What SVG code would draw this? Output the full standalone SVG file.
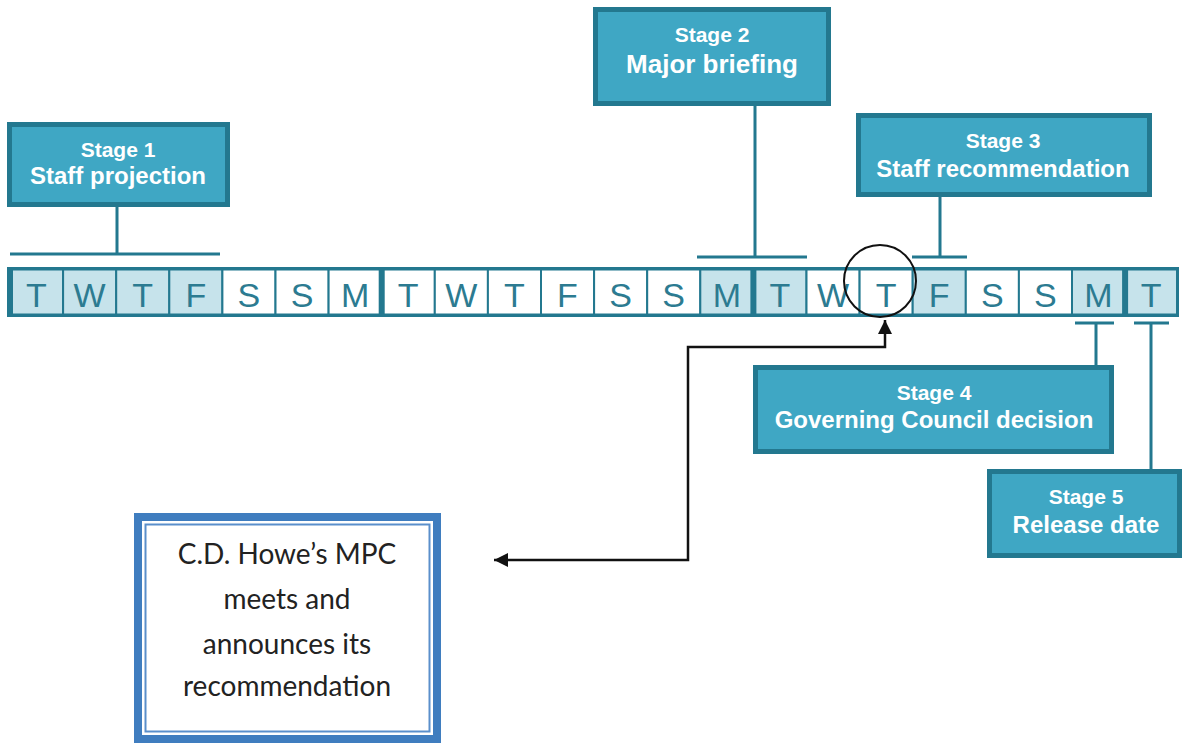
<svg xmlns="http://www.w3.org/2000/svg" width="1184" height="745" viewBox="0 0 1184 745">
<defs>
<style>
.stage rect{fill:#3fa7c4;stroke:#23788f;stroke-width:5}
.stage text{font-family:"Liberation Sans",Arial,sans-serif;font-weight:bold;fill:#ffffff;text-anchor:middle}
.s1{font-size:21px}
.s2{font-size:24px}
.tick{stroke:#23788f;stroke-width:3;fill:none}
.cell{stroke:#23788f;stroke-width:2}
.lt{fill:#c6e3eb}
.wt{fill:#ffffff}
.day{font-family:"Liberation Sans",Arial,sans-serif;font-size:34px;fill:#2c7b91;text-anchor:middle}
.thick{fill:#23788f}
.mpc{font-family:Lato,"Open Sans",sans-serif;font-size:28px;fill:#222222;text-anchor:middle}
</style>
<marker id="ah" viewBox="0 0 10 10" refX="10" refY="5" markerUnits="userSpaceOnUse" markerWidth="14" markerHeight="14" orient="auto-start-reverse">
<path d="M0,0 L10,5 L0,10 z" fill="#111111"/>
</marker>
</defs>
<rect width="1184" height="745" fill="#ffffff"/>

<g id="strip">
<rect class="cell lt" x="10" y="269.5" width="53.1" height="45"/>
<rect class="cell lt" x="63.1" y="269.5" width="53.1" height="45"/>
<rect class="cell lt" x="116.2" y="269.5" width="53.1" height="45"/>
<rect class="cell lt" x="169.3" y="269.5" width="53.1" height="45"/>
<rect class="cell wt" x="222.4" y="269.5" width="53.1" height="45"/>
<rect class="cell wt" x="275.5" y="269.5" width="53.1" height="45"/>
<rect class="cell wt" x="328.6" y="269.5" width="53.1" height="45"/>
<rect class="cell wt" x="381.7" y="269.5" width="53.1" height="45"/>
<rect class="cell wt" x="434.8" y="269.5" width="53.1" height="45"/>
<rect class="cell wt" x="487.9" y="269.5" width="53.1" height="45"/>
<rect class="cell wt" x="541" y="269.5" width="53.1" height="45"/>
<rect class="cell wt" x="594.1" y="269.5" width="53.1" height="45"/>
<rect class="cell wt" x="647.2" y="269.5" width="53.1" height="45"/>
<rect class="cell lt" x="700.3" y="269.5" width="53.1" height="45"/>
<rect class="cell lt" x="753.4" y="269.5" width="53.1" height="45"/>
<rect class="cell wt" x="806.5" y="269.5" width="53.1" height="45"/>
<rect class="cell wt" x="859.6" y="269.5" width="53.1" height="45"/>
<rect class="cell lt" x="912.7" y="269.5" width="53.1" height="45"/>
<rect class="cell wt" x="965.8" y="269.5" width="53.1" height="45"/>
<rect class="cell wt" x="1018.9" y="269.5" width="53.1" height="45"/>
<rect class="cell lt" x="1072" y="269.5" width="53.1" height="45"/>
<rect class="cell lt" x="1125.1" y="269.5" width="52" height="45"/>
<rect x="8.5" y="268.5" width="1169" height="47" fill="none" stroke="#23788f" stroke-width="3"/>
<rect class="thick" x="7" y="268" width="6" height="48"/>
<rect class="thick" x="378.7" y="268" width="6" height="48"/>
<rect class="thick" x="750.4" y="268" width="6" height="48"/>
<rect class="thick" x="1122.1" y="268" width="6" height="48"/>
<text class="day" x="36.5" y="307">T</text>
<text class="day" x="89.6" y="307">W</text>
<text class="day" x="142.7" y="307">T</text>
<text class="day" x="195.8" y="307">F</text>
<text class="day" x="248.9" y="307">S</text>
<text class="day" x="302" y="307">S</text>
<text class="day" x="355.1" y="307">M</text>
<text class="day" x="408.2" y="307">T</text>
<text class="day" x="461.3" y="307">W</text>
<text class="day" x="514.4" y="307">T</text>
<text class="day" x="567.5" y="307">F</text>
<text class="day" x="620.6" y="307">S</text>
<text class="day" x="673.7" y="307">S</text>
<text class="day" x="726.8" y="307">M</text>
<text class="day" x="779.9" y="307">T</text>
<text class="day" x="833" y="307">W</text>
<text class="day" x="886.1" y="307">T</text>
<text class="day" x="939.2" y="307">F</text>
<text class="day" x="992.3" y="307">S</text>
<text class="day" x="1045.4" y="307">S</text>
<text class="day" x="1098.5" y="307">M</text>
<text class="day" x="1151.1" y="307">T</text>
</g>

<g id="connectors">
<path class="tick" d="M117,207 V254 M10,254 H220"/>
<path class="tick" d="M755,106 V257 M697,257 H807"/>
<path class="tick" d="M940,197 V257 M912,257 H967"/>
<path class="tick" d="M1096,365 V323 M1075,323 H1114"/>
<path class="tick" d="M1151,469 V323 M1134,323 H1169"/>
<path d="M494,560 H688 V347 H885 V320" fill="none" stroke="#111111" stroke-width="2.5" marker-start="url(#ah)" marker-end="url(#ah)"/>
</g>

<g id="highlight">
<circle cx="880" cy="281" r="36" fill="none" stroke="#111111" stroke-width="2"/>
</g>

<g id="stage1" class="stage">
<rect x="9.5" y="124.5" width="218" height="80"/>
<text class="s1" x="118" y="157">Stage 1</text>
<text class="s2" x="118" y="184">Staff projection</text>
</g>
<g id="stage2" class="stage">
<rect x="595.5" y="9.5" width="233" height="94"/>
<text class="s1" x="712" y="42">Stage 2</text>
<text x="712" y="73" style="font-size:26px">Major briefing</text>
</g>
<g id="stage3" class="stage">
<rect x="858.5" y="115.5" width="291" height="79"/>
<text class="s1" x="1003" y="148">Stage 3</text>
<text class="s2" x="1003" y="177">Staff recommendation</text>
</g>
<g id="stage4" class="stage">
<rect x="755.5" y="367.5" width="356" height="84"/>
<text class="s1" x="934" y="400">Stage 4</text>
<text class="s2" x="934" y="428">Governing Council decision</text>
</g>
<g id="stage5" class="stage">
<rect x="989.5" y="471.5" width="190" height="84"/>
<text class="s1" x="1086" y="504">Stage 5</text>
<text class="s2" x="1086" y="533">Release date</text>
</g>

<g id="mpc">
<rect x="138" y="517" width="299" height="222" fill="#ffffff" stroke="#3f7dbf" stroke-width="8"/>
<rect x="145.5" y="524.5" width="284" height="207" fill="none" stroke="#5a8fcb" stroke-width="2"/>
<text class="mpc" x="287" y="564">C.D. Howe’s MPC</text>
<text class="mpc" x="287" y="609">meets and</text>
<text class="mpc" x="287" y="654">announces its</text>
<text class="mpc" x="287" y="696">recommendation</text>
</g>
</svg>
